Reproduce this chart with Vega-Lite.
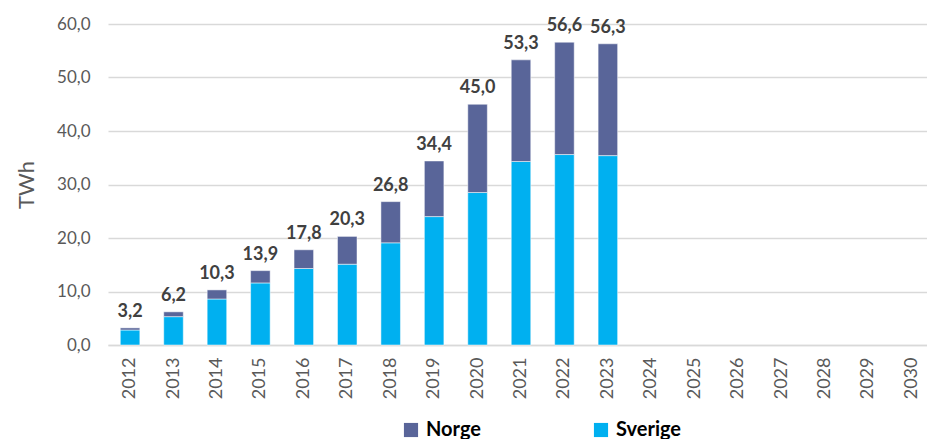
{
  "$schema": "https://vega.github.io/schema/vega-lite/v6.json",
  "width": 819,
  "height": 321,
  "autosize": {"type": "none"},
  "padding": {"left": 108, "top": 24, "right": 0, "bottom": 94},
  "background": "white",
  "config": {
    "view": {"stroke": null},
    "font": "Lato",
    "locale": {"number": {"decimal": ",", "thousands": " ", "grouping": [3], "currency": ["", " kr"]}}
  },
  "datasets": {
    "bars": [
      {"year": "2012", "land": "Sverige", "value": 2.8},
      {"year": "2012", "land": "Norge", "value": 0.4},
      {"year": "2013", "land": "Sverige", "value": 5.3},
      {"year": "2013", "land": "Norge", "value": 0.9},
      {"year": "2014", "land": "Sverige", "value": 8.6},
      {"year": "2014", "land": "Norge", "value": 1.7},
      {"year": "2015", "land": "Sverige", "value": 11.6},
      {"year": "2015", "land": "Norge", "value": 2.3},
      {"year": "2016", "land": "Sverige", "value": 14.3},
      {"year": "2016", "land": "Norge", "value": 3.5},
      {"year": "2017", "land": "Sverige", "value": 15.1},
      {"year": "2017", "land": "Norge", "value": 5.2},
      {"year": "2018", "land": "Sverige", "value": 19.1},
      {"year": "2018", "land": "Norge", "value": 7.7},
      {"year": "2019", "land": "Sverige", "value": 24.0},
      {"year": "2019", "land": "Norge", "value": 10.4},
      {"year": "2020", "land": "Sverige", "value": 28.5},
      {"year": "2020", "land": "Norge", "value": 16.5},
      {"year": "2021", "land": "Sverige", "value": 34.3},
      {"year": "2021", "land": "Norge", "value": 19.0},
      {"year": "2022", "land": "Sverige", "value": 35.6},
      {"year": "2022", "land": "Norge", "value": 21.0},
      {"year": "2023", "land": "Sverige", "value": 35.4},
      {"year": "2023", "land": "Norge", "value": 20.9}
    ],
    "totals": [
      {"year": "2012", "total": 3.2},
      {"year": "2013", "total": 6.2},
      {"year": "2014", "total": 10.3},
      {"year": "2015", "total": 13.9},
      {"year": "2016", "total": 17.8},
      {"year": "2017", "total": 20.3},
      {"year": "2018", "total": 26.8},
      {"year": "2019", "total": 34.4},
      {"year": "2020", "total": 45.0},
      {"year": "2021", "total": 53.3},
      {"year": "2022", "total": 56.6},
      {"year": "2023", "total": 56.3}
    ]
  },
  "layer": [
    {
      "data": {"name": "bars"},
      "mark": {"type": "bar", "stroke": "white", "strokeWidth": 0.5},
      "encoding": {
        "x": {
          "field": "year", "type": "ordinal",
          "scale": {"domain": ["2012","2013","2014","2015","2016","2017","2018","2019","2020","2021","2022","2023","2024","2025","2026","2027","2028","2029","2030"], "paddingInner": 0.55, "paddingOuter": 0.283, "range": [0, 826]},
          "axis": {"title": null, "labelAngle": -90, "labelFontSize": 18, "labelColor": "#595959", "labelPadding": 12, "ticks": false, "domainColor": "#d9d9d9", "domainWidth": 1.5, "labelBaseline": "middle", "labelAlign": "right"}
        },
        "y": {
          "field": "value", "type": "quantitative", "stack": "zero",
          "scale": {"domain": [0, 60]},
          "axis": {"title": "TWh", "titleFontSize": 22, "titleFontWeight": "normal", "titleColor": "#595959", "titlePadding": 18, "values": [0,10,20,30,40,50,60], "format": ",.1f", "labelFontSize": 17, "labelColor": "#595959", "labelPadding": 18, "ticks": false, "domain": false, "gridColor": "#d9d9d9", "gridWidth": 1.5}
        },
        "color": {
          "field": "land", "type": "nominal",
          "scale": {"domain": ["Norge", "Sverige"], "range": ["#596599", "#00B0F0"]},
          "legend": {"title": null, "orient": "none", "legendX": 293, "legendY": 396, "direction": "horizontal", "symbolType": "square", "symbolSize": 200, "symbolStrokeWidth": 0, "labelFontSize": 20, "labelFontWeight": "bold", "labelColor": "#000000", "columnPadding": 110, "labelOffset": 5, "labelLimit": 300}
        },
        "order": {"field": "land", "sort": "descending"}
      }
    },
    {
      "data": {"name": "totals"},
      "mark": {"type": "text", "baseline": "bottom", "dy": -7, "fontSize": 18, "fontWeight": "bold", "color": "#404040"},
      "encoding": {
        "x": {"field": "year", "type": "ordinal"},
        "y": {"field": "total", "type": "quantitative"},
        "text": {"field": "total", "type": "quantitative", "format": ",.1f"}
      }
    }
  ]
}
